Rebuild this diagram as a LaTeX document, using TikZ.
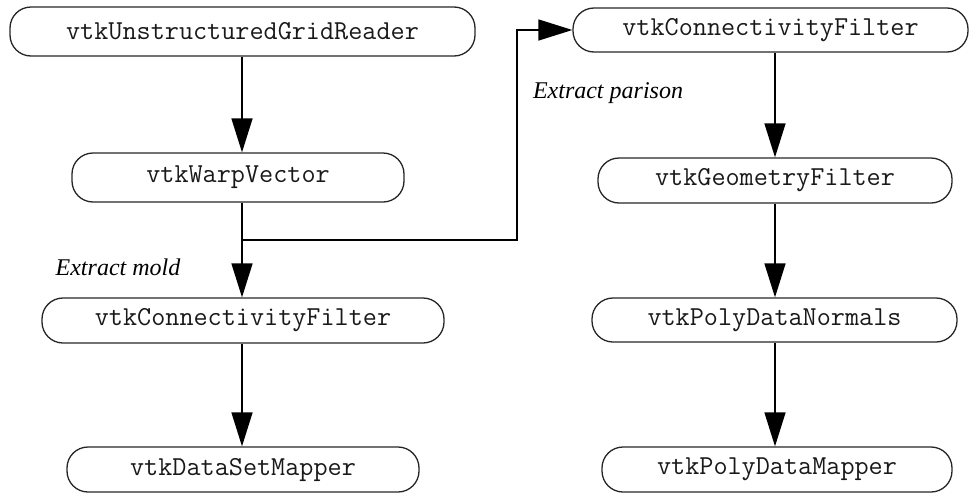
\documentclass[tikz,border=0pt]{standalone}
\usepackage{fontspec}
\setmainfont{Liberation Serif}
\usetikzlibrary{arrows.meta}
\begin{document}
\begin{tikzpicture}[x=0.5pt,y=-0.5pt,
  vbox/.style={draw=black!85, rounded corners=10.5pt, line width=0.65pt, inner sep=0pt,
    font=\ttfamily\fontsize{13.7}{15}\selectfont, text=black!90},
  conn/.style={line width=0.75pt, draw=black},
  arr/.style={conn, -{Triangle[length=17pt,width=10.5pt]}},
  lbl/.style={font=\itshape\fontsize{12}{14}\selectfont, inner sep=0pt}]
\useasboundingbox (0,0) rectangle (970,493);
\coordinate (colL) at (242,0);
\coordinate (colR) at (775,0);
\node[vbox, minimum width=232.5pt, minimum height=24.5pt] (n1) at (242.5,31.5) {vtkUnstructuredGridReader};
\node[vbox, minimum width=166pt, minimum height=24.5pt] (n2) at (238,177.5) {vtkWarpVector};
\node[vbox, minimum width=201pt, minimum height=22.5pt] (n3) at (243,320.5) {vtkConnectivityFilter};
\node[vbox, minimum width=176pt, minimum height=22.5pt] (n4) at (243,469.5) {vtkDataSetMapper};
\node[vbox, minimum width=197.5pt, minimum height=22pt] (n5) at (770.5,30) {vtkConnectivityFilter};
\node[vbox, minimum width=177pt, minimum height=22.5pt] (n6) at (775,180.5) {vtkGeometryFilter};
\node[vbox, minimum width=182.5pt, minimum height=22pt] (n7) at (774.5,320) {vtkPolyDataNormals};
\node[vbox, minimum width=175pt, minimum height=22.5pt] (n8) at (777,469.5) {vtkPolyDataMapper};
\node[lbl] (l1) at (118,267) {Extract mold};
\node[lbl] (l2) at (608,93) {Extract parison};
\coordinate (j) at (242,240);
\coordinate (k) at (517,240);
\draw[arr] (n1.south -| colL) -- (n2.north -| colL);
\draw[conn] (n2.south -| colL) -- (j);
\draw[arr] (j) -- (n3.north -| colL);
\draw[arr] (n3.south -| colL) -- (n4.north -| colL);
\draw[arr] (j) -- (k) |- (n5.west);
\draw[arr] (n5.south -| colR) -- (n6.north -| colR);
\draw[arr] (n6.south -| colR) -- (n7.north -| colR);
\draw[arr] (n7.south -| colR) -- (n8.north -| colR);
\end{tikzpicture}
\end{document}
